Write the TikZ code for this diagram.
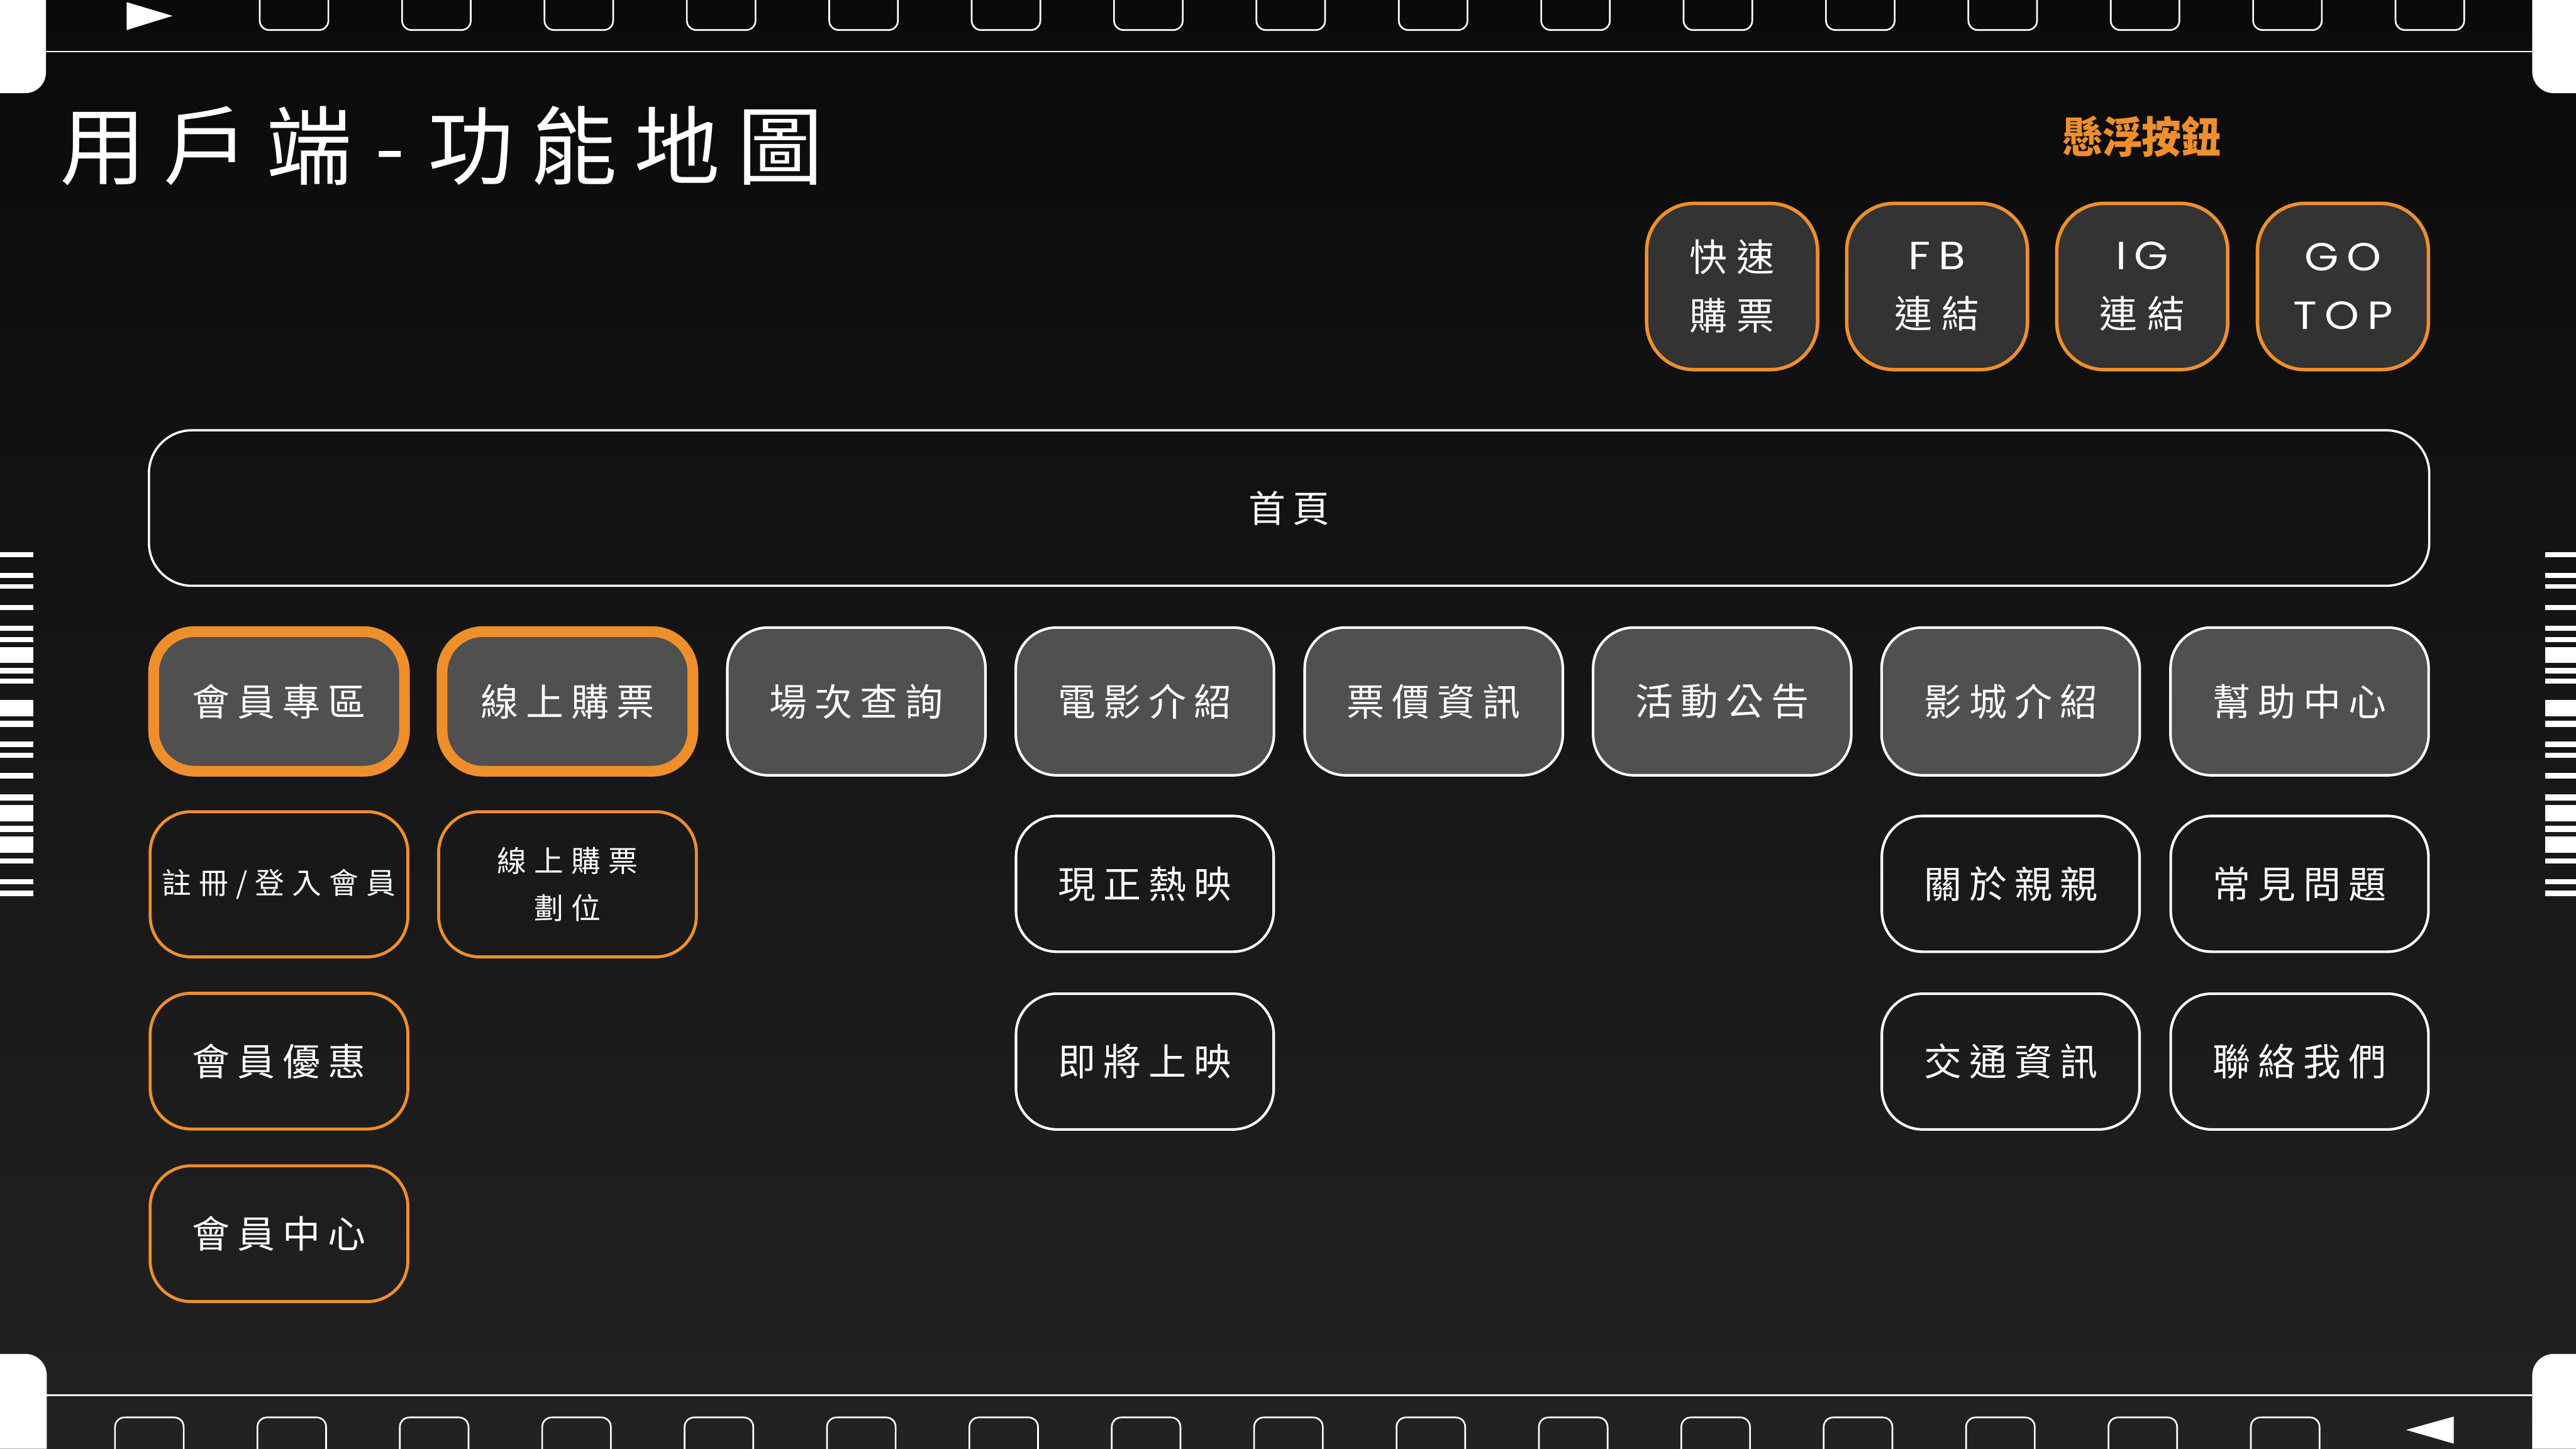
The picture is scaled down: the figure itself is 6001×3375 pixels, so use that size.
\documentclass[tikz,border=0pt]{standalone}
\usepackage{fontspec}
\usepackage{graphicx}
\newfontfamily\cjkT[LetterSpace=20]{Noto Sans CJK TC}
\newfontfamily\cjkA[LetterSpace=20]{Noto Sans CJK TC}
\newfontfamily\cjkB[LetterSpace=26]{Noto Sans CJK TC}
\newfontfamily\cjkP{Noto Sans CJK TC}
\newfontfamily\latinsp[LetterSpace=18]{Poppins}
\newcommand\wide[1]{{\latinsp\fontsize{26}{38.7}\selectfont\scalebox{1.12}[1]{#1}}}
\definecolor{accent}{HTML}{EF8F2B}
\definecolor{boxgray}{HTML}{505050}
\definecolor{btngray}{HTML}{333333}
\definecolor{bgtop}{HTML}{0A0A0A}
\definecolor{bgmid}{HTML}{121212}
\definecolor{bgbot}{HTML}{222222}
\tikzset{
  boxbase/.style={rounded corners=0.95cm, inner sep=0pt, text=white, align=center},
  mainbox/.style={boxbase, draw=white, line width=1.7pt, fill=boxgray, minimum width=6.01cm, minimum height=3.44cm, font=\cjkA\fontsize{25}{30}\selectfont},
  hlbox/.style={boxbase, draw=accent, line width=7.1pt, fill=boxgray, minimum width=5.84cm, minimum height=3.25cm, font=\cjkA\fontsize{25}{30}\selectfont},
  subwhite/.style={boxbase, draw=white, line width=1.7pt, minimum width=6.0cm, minimum height=3.16cm, font=\cjkA\fontsize{25}{30}\selectfont},
  suborange/.style={boxbase, draw=accent, line width=2pt, minimum width=6.0cm, minimum height=3.16cm, font=\cjkA\fontsize{25}{30}\selectfont},
  suborangetall/.style={suborange, minimum height=3.38cm, font=\cjkB\fontsize{19.5}{31}\selectfont},
  floatbtn/.style={boxbase, rounded corners=1.1cm, draw=accent, line width=2.3pt, fill=btngray, minimum width=3.98cm, minimum height=3.87cm, font=\fontsize{25}{38.7}\selectfont},
  homebox/.style={boxbase, rounded corners=1cm, draw=white, line width=1.5pt, minimum width=53.09cm, minimum height=3.62cm, font=\cjkA\fontsize{24.5}{30}\selectfont},
  hole/.style={draw=white, line width=1.1pt, rounded corners=0.22cm},
  filmline/.style={draw=white, line width=1.15pt},
}
\begin{document}
\begin{tikzpicture}[x=0.01cm, y=-0.01cm]
\useasboundingbox (0,0) rectangle (6001,3375);
% background
\shade[top color=bgtop, middle color=bgmid, bottom color=bgbot] (0,0) rectangle (6001,3375);

% film strip: white corner blocks
\fill[white] (0,0) -- (107,0) -- (107,169) arc (0:90:48) -- (0,217) -- cycle;
\fill[white] (5899,0) -- (6001,0) -- (6001,217) -- (5949,217) arc (90:180:50) -- cycle;
\fill[white] (0,3375) -- (0,3154) -- (59,3154) arc (-90:0:50) -- (109,3375) -- cycle;
\fill[white] (6001,3375) -- (6001,3154) -- (5949,3154) arc (-90:-180:50) -- (5899,3375) -- cycle;
% film lines
\draw[filmline] (107,120) -- (5899,120);
\draw[filmline] (109,3250) -- (5899,3250);
% sprocket holes
\foreach \i in {0,...,15} {
  \pgfmathsetmacro\hx{605+331.7*\i}
  \draw[hole] (\hx,-40) -- (\hx,70) -- ({\hx+160},70) -- ({\hx+160},-40);
  \pgfmathsetmacro\bx{268+331.7*\i}
  \draw[hole] (\bx,3420) -- (\bx,3302) -- ({\bx+160},3302) -- ({\bx+160},3420);
}
% triangles
\fill[white] (295,5) -- (402,37) -- (295,70) -- cycle;
\fill[white] (5716,3300) -- (5605,3331) -- (5716,3363) -- cycle;
% side bars
\foreach \a/\b in {1286/1298,1335/1346,1361/1372,1410/1421,1458/1470,1484/1496,1508/1544,1556/1569,1581/1593,1631/1668,1679/1693,1728/1741,1753/1765,1801/1814,1851/1865,1876/1914,1924/1938,1949/1986,2000/2011,2048/2060,2074/2087} {
  \fill[white] (0,\a) rectangle (78,\b);
  \fill[white] (5929,\a) rectangle (6001,\b);
}

% title
\node[anchor=west, inner sep=0pt, text=white, font=\cjkT\fontsize{56.9}{60}\selectfont] (title) at (139,340) {用戶端\kern0.27em-\kern0.27em功能地圖};
% floating label
\node[inner sep=0pt, text=accent, font=\cjkP\bfseries\fontsize{28.5}{30}\selectfont] (floatlabel) at (4990,319) {\scalebox{0.92}[1]{懸浮按鈕}};

% floating buttons
\node[floatbtn] (quick) at (4035,667.5) {{\cjkB 快速}\\{\cjkB 購票}};
\node[floatbtn, minimum width=4.21cm] (fb) at (4512.5,667.5) {\wide{FB}\\{\cjkB 連結}};
\node[floatbtn] (ig) at (4990.5,667.5) {\wide{IG}\\{\cjkB 連結}};
\node[floatbtn] (gotop) at (5458,667.5) {\wide{GO}\\\wide{TOP}};

% home
\node[homebox] (home) at (3003,1183.5) {首頁};

% row 1
\node[hlbox] (member) at (650,1634) {會員專區};
\node[hlbox] (ticket) at (1322,1634) {線上購票};
\node[mainbox] (showtime) at (1995,1634) {場次查詢};
\node[mainbox] (movie) at (2667,1634) {電影介紹};
\node[mainbox] (price) at (3340,1634) {票價資訊};
\node[mainbox] (event) at (4012,1634) {活動公告};
\node[mainbox] (cinema) at (4684,1634) {影城介紹};
\node[mainbox] (help) at (5357,1634) {幫助中心};

% row 2
\node[suborangetall] (login) at (650,2060) {註冊/登入會員};
\node[suborangetall] (seat) at (1322,2060) {線上購票\\劃位};
\node[subwhite] (nowshowing) at (2667,2059) {現正熱映};
\node[subwhite] (about) at (4684,2059) {關於親親};
\node[subwhite] (faq) at (5357,2059) {常見問題};

% row 3
\node[suborange] (offer) at (650,2472) {會員優惠};
\node[subwhite] (coming) at (2667,2473) {即將上映};
\node[subwhite] (traffic) at (4684,2473) {交通資訊};
\node[subwhite] (contact) at (5357,2473) {聯絡我們};

% row 4
\node[suborange] (membercenter) at (650,2874) {會員中心};
\end{tikzpicture}
\end{document}
